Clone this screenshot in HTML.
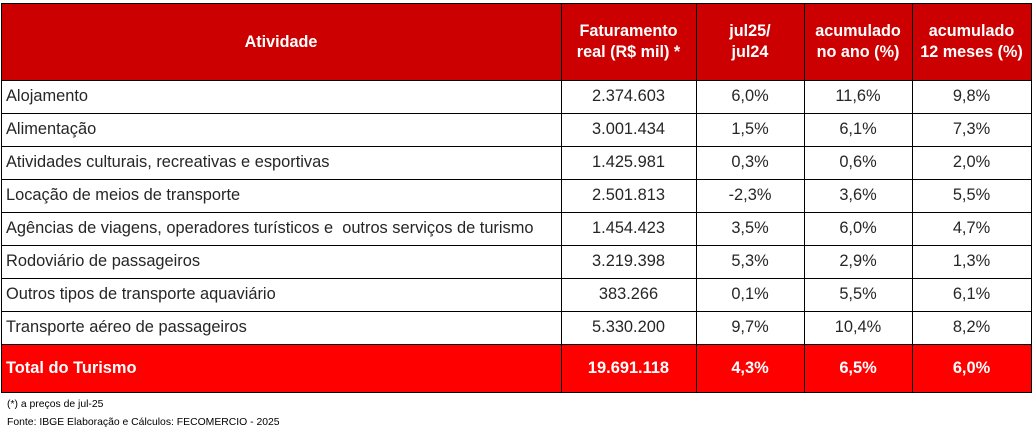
<!DOCTYPE html>
<html><head><meta charset="utf-8">
<style>
html,body{margin:0;padding:0;background:#fff;}
body{width:1035px;height:434px;position:relative;overflow:hidden;font-family:"Liberation Sans",Arial,sans-serif;}
.c{position:absolute;box-sizing:border-box;display:flex;align-items:center;justify-content:center;text-align:center;font-size:16.4px;color:#262626;white-space:nowrap;}
.l{justify-content:flex-start;padding-left:5px;}
.h{background:#cc0000;color:#fff;font-weight:bold;line-height:21px;font-size:16.2px;}
.t{background:#ff0000;color:#fff;font-weight:bold;}
.hl{position:absolute;height:1px;background:#000;}
.vl{position:absolute;width:1px;background:#000;}
.f{position:absolute;left:7px;font-size:10.4px;color:#000;font-family:"Liberation Sans",sans-serif;white-space:nowrap;}
</style></head><body>
<!-- header backgrounds -->
<div class="c h" style="left:1px;top:3px;width:560px;height:78px;">Atividade</div>
<div class="c h" style="left:561px;top:3px;width:135px;height:78px;">Faturamento<br>real (R$ mil) *</div>
<div class="c h" style="left:696px;top:3px;width:108px;height:78px;">jul25/<br>jul24</div>
<div class="c h" style="left:804px;top:3px;width:108px;height:78px;">acumulado<br>no ano (%)</div>
<div class="c h" style="left:912px;top:3px;width:119px;height:78px;">acumulado<br>12 meses (%)</div>

<!-- rows -->
<div class="c l" style="left:1px;top:80px;width:560px;height:33px;">Alojamento</div>
<div class="c" style="left:561px;top:80px;width:135px;height:33px;">2.374.603</div>
<div class="c" style="left:696px;top:80px;width:108px;height:33px;">6,0%</div>
<div class="c" style="left:804px;top:80px;width:108px;height:33px;">11,6%</div>
<div class="c" style="left:912px;top:80px;width:119px;height:33px;">9,8%</div>

<div class="c l" style="left:1px;top:113px;width:560px;height:33px;">Alimentação</div>
<div class="c" style="left:561px;top:113px;width:135px;height:33px;">3.001.434</div>
<div class="c" style="left:696px;top:113px;width:108px;height:33px;">1,5%</div>
<div class="c" style="left:804px;top:113px;width:108px;height:33px;">6,1%</div>
<div class="c" style="left:912px;top:113px;width:119px;height:33px;">7,3%</div>

<div class="c l" style="left:1px;top:146px;width:560px;height:33px;">Atividades culturais, recreativas e esportivas</div>
<div class="c" style="left:561px;top:146px;width:135px;height:33px;">1.425.981</div>
<div class="c" style="left:696px;top:146px;width:108px;height:33px;">0,3%</div>
<div class="c" style="left:804px;top:146px;width:108px;height:33px;">0,6%</div>
<div class="c" style="left:912px;top:146px;width:119px;height:33px;">2,0%</div>

<div class="c l" style="left:1px;top:179px;width:560px;height:33px;">Locação de meios de transporte</div>
<div class="c" style="left:561px;top:179px;width:135px;height:33px;">2.501.813</div>
<div class="c" style="left:696px;top:179px;width:108px;height:33px;">-2,3%</div>
<div class="c" style="left:804px;top:179px;width:108px;height:33px;">3,6%</div>
<div class="c" style="left:912px;top:179px;width:119px;height:33px;">5,5%</div>

<div class="c l" style="left:1px;top:212px;width:560px;height:33px;">Agências de viagens, operadores turísticos e&nbsp; outros serviços de turismo</div>
<div class="c" style="left:561px;top:212px;width:135px;height:33px;">1.454.423</div>
<div class="c" style="left:696px;top:212px;width:108px;height:33px;">3,5%</div>
<div class="c" style="left:804px;top:212px;width:108px;height:33px;">6,0%</div>
<div class="c" style="left:912px;top:212px;width:119px;height:33px;">4,7%</div>

<div class="c l" style="left:1px;top:245px;width:560px;height:33px;">Rodoviário de passageiros</div>
<div class="c" style="left:561px;top:245px;width:135px;height:33px;">3.219.398</div>
<div class="c" style="left:696px;top:245px;width:108px;height:33px;">5,3%</div>
<div class="c" style="left:804px;top:245px;width:108px;height:33px;">2,9%</div>
<div class="c" style="left:912px;top:245px;width:119px;height:33px;">1,3%</div>

<div class="c l" style="left:1px;top:278px;width:560px;height:33px;">Outros tipos de transporte aquaviário</div>
<div class="c" style="left:561px;top:278px;width:135px;height:33px;">383.266</div>
<div class="c" style="left:696px;top:278px;width:108px;height:33px;">0,1%</div>
<div class="c" style="left:804px;top:278px;width:108px;height:33px;">5,5%</div>
<div class="c" style="left:912px;top:278px;width:119px;height:33px;">6,1%</div>

<div class="c l" style="left:1px;top:311px;width:560px;height:33px;">Transporte aéreo de passageiros</div>
<div class="c" style="left:561px;top:311px;width:135px;height:33px;">5.330.200</div>
<div class="c" style="left:696px;top:311px;width:108px;height:33px;">9,7%</div>
<div class="c" style="left:804px;top:311px;width:108px;height:33px;">10,4%</div>
<div class="c" style="left:912px;top:311px;width:119px;height:33px;">8,2%</div>

<!-- total -->
<div class="c l t" style="left:1px;top:344px;width:560px;height:49px;">Total do Turismo</div>
<div class="c t" style="left:561px;top:344px;width:135px;height:49px;">19.691.118</div>
<div class="c t" style="left:696px;top:344px;width:108px;height:49px;">4,3%</div>
<div class="c t" style="left:804px;top:344px;width:108px;height:49px;">6,5%</div>
<div class="c t" style="left:912px;top:344px;width:119px;height:49px;">6,0%</div>

<!-- grid lines -->
<div class="hl" style="left:1px;width:1031px;top:3px;"></div>
<div class="hl" style="left:1px;width:1031px;top:80px;"></div>
<div class="hl" style="left:1px;width:1031px;top:113px;"></div>
<div class="hl" style="left:1px;width:1031px;top:146px;"></div>
<div class="hl" style="left:1px;width:1031px;top:179px;"></div>
<div class="hl" style="left:1px;width:1031px;top:212px;"></div>
<div class="hl" style="left:1px;width:1031px;top:245px;"></div>
<div class="hl" style="left:1px;width:1031px;top:278px;"></div>
<div class="hl" style="left:1px;width:1031px;top:311px;"></div>
<div class="hl" style="left:1px;width:1031px;top:344px;"></div>
<div class="hl" style="left:1px;width:1031px;top:392px;"></div>
<div class="vl" style="top:3px;height:390px;left:1px;"></div>
<div class="vl" style="top:3px;height:390px;left:561px;"></div>
<div class="vl" style="top:3px;height:390px;left:696px;"></div>
<div class="vl" style="top:3px;height:390px;left:804px;"></div>
<div class="vl" style="top:3px;height:390px;left:912px;"></div>
<div class="vl" style="top:3px;height:390px;left:1031px;"></div>

<!-- footer -->
<div class="f" style="top:399px;">(*) a preços de jul-25</div>
<div class="f" style="top:417px;">Fonte: IBGE Elaboração e Cálculos: FECOMERCIO - 2025</div>
</body></html>
